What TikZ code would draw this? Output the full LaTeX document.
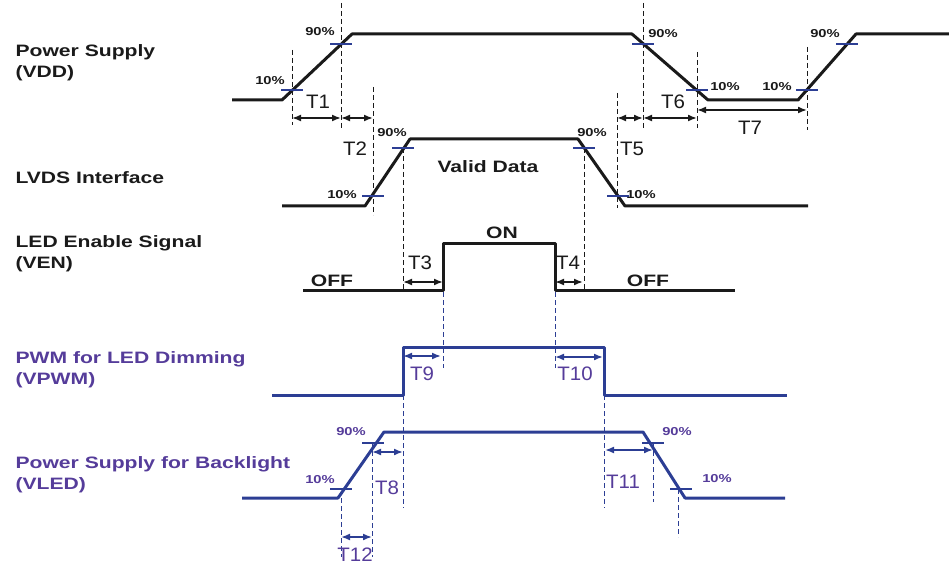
\documentclass[tikz,border=0pt]{standalone}
\usepackage{fontspec}
\setmainfont{Liberation Sans}[FakeStretch=1.28]
\newfontfamily\tfont{Liberation Sans}[FakeStretch=1.05]
\usetikzlibrary{arrows.meta}
\definecolor{sigblack}{HTML}{1A1A1A}
\definecolor{sigblue}{HTML}{2C3E94}
\definecolor{lblpurple}{HTML}{553C9A}
\begin{document}
\begin{tikzpicture}[x=1pt, y=-1pt,
        wave/.style={line width=3pt, line join=round},
        guide/.style={line width=1pt, dash pattern=on 5pt off 3pt},
        levelmark/.style={line width=2.2pt, sigblue},
        timespan/.style={<->, >={Latex[length=9pt,width=7pt]}, line width=1.7pt},
        signame/.style={anchor=west, align=left, font=\fontsize{16.5}{21}\selectfont\bfseries},
        pct/.style={font=\fontsize{11.5}{13}\selectfont\bfseries},
        tlabel/.style={font=\fontsize{19.5}{21}\selectfont\tfont}]
    \useasboundingbox (0,0) rectangle (949,569);

    \node[signame, sigblack] (vdd) at (12,63) {Power Supply\\(VDD)};
    \node[signame, sigblack] (lvds) at (12,178) {LVDS Interface};
    \node[signame, sigblack] (ven) at (12,254) {LED Enable Signal\\(VEN)};
    \node[signame, lblpurple] (vpwm) at (12,370) {PWM for LED Dimming\\(VPWM)};
    \node[signame, lblpurple] (vled) at (12,475) {Power Supply for Backlight\\(VLED)};

    \foreach \x/\ya/\yb in {292/50/125, 341/3/128, 373/87/215, 403/148/290, 584/148/290,
                             617/93/208, 643/3/128, 697/52/128, 807/47/130}
        \draw[guide, sigblack] (\x,\ya) -- (\x,\yb);
    \foreach \x/\ya/\yb in {443/292/368, 555/292/368, 403/395/508, 604/395/508,
                             341/498/557, 372/443/557, 653/443/502, 678/489/537}
        \draw[guide, sigblue] (\x,\ya) -- (\x,\yb);

    \draw[wave, sigblack] (232,100) -- (282,100) -- (352,34) -- (632,34) -- (708,100) -- (798,100) -- (856,34) -- (949,34);
    \draw[wave, sigblack] (282,206) -- (365,206) -- (410,139) -- (578,139) -- (625,206) -- (808,206);
    \draw[wave, sigblack] (303,290) -- (443,290) -- (443,243) -- (555,243) -- (555,290) -- (735,290);
    \draw[wave, sigblue] (272,395) -- (403,395) -- (403,347) -- (604,347) -- (604,395) -- (787,395);
    \draw[wave, sigblue] (242,498) -- (338,498) -- (384,432) -- (643,432) -- (685,498) -- (785,498);

    \foreach \x/\y in {292/90, 341/44, 643/44, 697/90, 807/90, 847/44,
                       373/196, 403/148, 584/148, 618/196,
                       341/489, 373/443, 653/443, 681/489}
        \draw[levelmark] (\x,\y) ++(-11,0) -- ++(22,0);

    \foreach \x/\y/\txt [count=\i] in {270/81/10\%, 320/32/90\%, 663/34/90\%, 725/87/10\%,
                                      777/87/10\%, 825/34/90\%, 392/133/90\%, 342/195/10\%,
                                      592/133/90\%, 641/195/10\%}
        \node[pct, sigblack] (pk\i) at (\x,\y) {\txt};
    \foreach \x/\y/\txt [count=\i] in {351/432/90\%, 320/480/10\%, 677/432/90\%, 717/479/10\%}
        \node[pct, lblpurple] (pb\i) at (\x,\y) {\txt};

    \node[font=\fontsize{16.5}{18}\selectfont\bfseries, sigblack] (valid) at (488,167) {Valid Data};
    \node[font=\fontsize{16.5}{18}\selectfont\bfseries, sigblack] (on) at (502,233) {ON};
    \node[font=\fontsize{16.5}{18}\selectfont\bfseries, sigblack] (offl) at (332,281) {OFF};
    \node[font=\fontsize{16.5}{18}\selectfont\bfseries, sigblack] (offr) at (648,281) {OFF};

    \foreach \xa/\xb/\y in {292/341/118, 341/373/118, 617/643/118, 643/697/118,
                            697/807/110, 403/443/282, 555/583/282}
        \draw[timespan, sigblack] (\xa,\y) -- (\xb,\y);
    \foreach \xa/\xb/\y in {403/441/356, 555/603/357, 372/403/452, 605/653/450, 341/372/537}
        \draw[timespan, sigblue] (\xa,\y) -- (\xb,\y);

    \foreach \x/\y/\txt in {318/102/1, 355/149/2, 420/263/3, 568/263/4,
                            632/149/5, 673/102/6, 750/128/7}
        \node[tlabel, sigblack] (t\txt) at (\x,\y) {T\txt};
    \foreach \x/\y/\txt in {387/488/8, 422/374/9, 575/374/10, 623/482/11, 355/555/12}
        \node[tlabel, lblpurple] (t\txt) at (\x,\y) {T\txt};
\end{tikzpicture}
\end{document}
